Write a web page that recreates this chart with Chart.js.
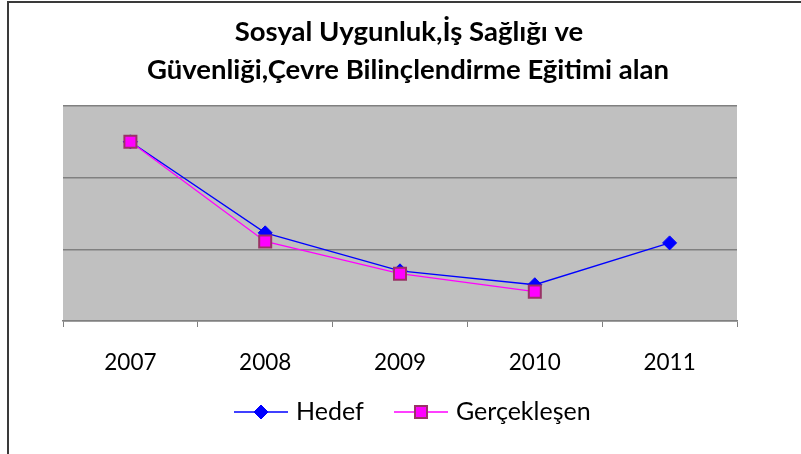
<!DOCTYPE html>
<html>
<head>
<meta charset="utf-8">
<script src="https://cdn.jsdelivr.net/npm/chart.js@4.4.0/dist/chart.umd.min.js"></script>
<style>
  html, body { margin: 0; padding: 0; background: #fff; }
  #wrap { position: relative; width: 801px; height: 454px; overflow: hidden; }
  #frame { position: absolute; left: 7px; top: 1px; width: 900px; height: 600px;
           border-left: 2px solid #3a3a3a; border-top: 2px solid #3a3a3a; }
  canvas { position: absolute; left: 0; top: 0; }
</style>
</head>
<body>
<div id="wrap">
  <div id="frame"></div>
  <canvas id="grafico" width="801" height="454"></canvas>
</div>
<script>
// datos
const yillar = ["2007", "2008", "2009", "2010", "2011"];
const hedef = [1250, 615, 350, 253, 545];
const gerceklesen = [1250, 555, 330, 205, null];
const baslik = ["Sosyal Uygunluk,İş Sağlığı ve", "Güvenliği,Çevre Bilinçlendirme Eğitimi alan"];
const yMax = 1500, yAdim = 500;

const FONT = "Lato, 'Open Sans', sans-serif";

// fondo gris del area
const fondoPlot = {
  id: "fondoPlot",
  beforeDraw(chart) {
    const { ctx, chartArea: a } = chart;
    ctx.save();
    ctx.fillStyle = "#c0c0c0";
    ctx.fillRect(a.left, a.top, a.right - a.left, a.bottom - a.top);
    ctx.restore();
  }
};

// titulo + leyenda dibujados a mano
const textos = {
  id: "textos",
  afterDraw(chart) {
    const ctx = chart.ctx;
    ctx.save();
    ctx.fillStyle = "#000";
    ctx.textAlign = "center";
    ctx.textBaseline = "middle";
    ctx.font = "bold 27.5px " + FONT;
    ctx.fillText(baslik[0], 409, 32);
    ctx.fillText(baslik[1], 408, 70);

    const y = 412;
    const items = [
      { ds: chart.data.datasets[0], x0: 234, label: "Hedef" },
      { ds: chart.data.datasets[1], x0: 394, label: "Gerçekleşen" }
    ];
    items.forEach(it => {
      const cx = it.x0 + 27;
      ctx.strokeStyle = it.ds.borderColor;
      ctx.lineWidth = 1.3;
      ctx.beginPath();
      ctx.moveTo(it.x0, y);
      ctx.lineTo(it.x0 + 54, y);
      ctx.stroke();
      ctx.fillStyle = it.ds.pointBackgroundColor;
      ctx.strokeStyle = it.ds.pointBorderColor;
      ctx.lineWidth = it.ds.pointBorderWidth;
      ctx.beginPath();
      if (it.ds.pointStyle === "rect") {
        const s = Math.SQRT1_2 * it.ds.pointRadius;
        ctx.rect(cx - s, y - s, 2 * s, 2 * s);
      } else {
        const r = it.ds.pointRadius;
        ctx.moveTo(cx, y - r);
        ctx.lineTo(cx + r, y);
        ctx.lineTo(cx, y + r);
        ctx.lineTo(cx - r, y);
        ctx.closePath();
      }
      ctx.fill();
      ctx.stroke();
      ctx.fillStyle = "#000";
      ctx.textAlign = "left";
      ctx.font = "25px " + FONT;
      ctx.fillText(it.label, it.x0 + 62, y);
    });
    ctx.restore();
  }
};

new Chart(document.getElementById("grafico"), {
  type: "line",
  data: {
    labels: yillar,
    datasets: [
      {
        label: "Hedef",
        data: hedef,
        borderColor: "#0000ff",
        borderWidth: 1.3,
        pointStyle: "rectRot",
        pointRadius: 7,
        pointBackgroundColor: "#0000ff",
        pointBorderColor: "#0000ff",
        pointBorderWidth: 1,
        tension: 0,
        order: 2
      },
      {
        label: "Gerçekleşen",
        data: gerceklesen,
        borderColor: "#ff00ff",
        borderWidth: 1.3,
        pointStyle: "rect",
        pointRadius: 8.5,
        pointBackgroundColor: "#ff00ff",
        pointBorderColor: "#993366",
        pointBorderWidth: 2,
        tension: 0,
        order: 1
      }
    ]
  },
  options: {
    responsive: false,
    animation: false,
    layout: { padding: { top: 106, left: 63, right: 64, bottom: 0 } },
    plugins: {
      legend: { display: false },
      title: { display: false },
      tooltip: { enabled: false }
    },
    scales: {
      x: {
        offset: true,
        afterFit(scale) { scale.height = 133; },
        grid: { offset: true, drawOnChartArea: false, color: "#808080", tickLength: 6, lineWidth: 1 },
        border: { color: "#808080", width: 1.5 },
        ticks: { color: "#000", font: { family: FONT, size: 22.5 }, padding: 22 }
      },
      y: {
        min: 0,
        max: yMax,
        afterFit(scale) { scale.width = 0; },
        ticks: { display: false, stepSize: yAdim },
        grid: { color: "#808080", lineWidth: 1.5, drawTicks: false },
        border: { display: false }
      }
    }
  },
  plugins: [fondoPlot, textos]
});
</script>
</body>
</html>
